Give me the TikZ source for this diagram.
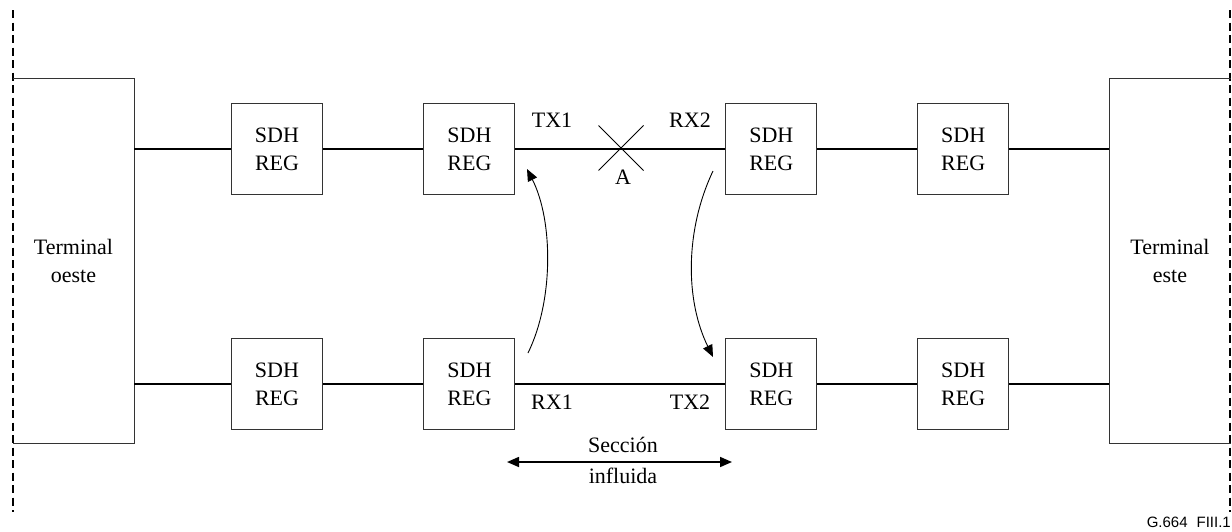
\documentclass[tikz,border=0pt]{standalone}
\usepackage{fontspec}
\setmainfont{Liberation Serif}
\newfontfamily\figsans{Liberation Sans}
\usetikzlibrary{arrows.meta, positioning, shapes.misc}

\begin{document}
\begin{tikzpicture}[
  x=1pt, y=-1pt,
  reg/.style={rectangle, draw=black!80, line width=0.9pt, minimum width=91pt, minimum height=91pt, inner sep=0pt, align=center, font=\fontsize{22}{28}\selectfont},
  term/.style={rectangle, minimum width=121pt, minimum height=364pt, inner sep=0pt, align=center, font=\fontsize{22}{28}\selectfont},
  tag/.style={inner sep=0pt, anchor=base, font=\fontsize{22}{28}\selectfont},
  link/.style={line width=1.6pt},
  side/.style={draw=black!80, line width=0.9pt},
  bound/.style={line width=1.8pt, dash pattern=on 8pt off 4.5pt},
  >={Triangle[length=12pt, width=10pt]}
]
\useasboundingbox (0,0) rectangle (1232,531);

% dashed boundaries
\coordinate (wt) at (13,10);
\coordinate (wb) at (13,512);
\coordinate (et) at (1230,10);
\coordinate (eb) at (1230,512);
\draw[bound] (wt) -- (wb);
\draw[bound] (et) -- (eb);

% terminals
\node[term] (W) at (73.5,261) {Terminal\\oeste};
\node[term] (E) at (1170,261) {Terminal\\este};
\draw[side] (W.north west) -| (W.south east) -- (W.south west);
\draw[side] (E.north east) -| (E.south west) -- (E.south east);

% regenerators
\node[reg] (b1) at (277,149) {SDH\\REG};
\node[reg, right=100.5pt of b1] (b2) {SDH\\REG};
\node[reg, right=210pt of b2] (b3) {SDH\\REG};
\node[reg, right=100pt of b3] (b4) {SDH\\REG};
\node[reg, below=143pt of b1] (c1) {SDH\\REG};
\node[reg, below=143pt of b2] (c2) {SDH\\REG};
\node[reg, below=143pt of b3] (c3) {SDH\\REG};
\node[reg, below=143pt of b4] (c4) {SDH\\REG};

\draw[link] (W.east |- b1) -- (b1) -- (b2) -- (b3) -- (b4) -- (E.west |- b4);
\draw[link] (W.east |- c1) -- (c1) -- (c2) -- (c3) -- (c4) -- (E.west |- c4);

% break point
\node[cross out, draw, line width=1pt, minimum size=44pt, inner sep=0pt] (cut) at (621,148) {};
\node[tag] (lA) at (623,184) {A};

\node[tag] (tx1) at (552,127) {TX1};
\node[tag] (rx2) at (690,127) {RX2};
\node[tag] (rx1) at (552,409) {RX1};
\node[tag] (tx2) at (690,409) {TX2};

% loop-back arrows
\coordinate (up0) at (528,353);
\coordinate (up1) at (527,169);
\coordinate (dn0) at (713,171);
\coordinate (dn1) at (713,357);
\draw[->, line width=0.9pt] (up0) .. controls (554,300) and (553,220) .. (up1);
\draw[->, line width=0.9pt] (dn0) .. controls (685,230) and (685,300) .. (dn1);

% affected section
\coordinate (sL) at (507,462);
\coordinate (sR) at (732,462);
\draw[<->, link] (sL) -- (sR);
\node[tag] (sec) at (623,452) {Sección};
\node[tag] (inf) at (623,483) {influida};

\node[inner sep=0pt, anchor=base east, font=\figsans\fontsize{15}{17}\selectfont] (fig) at (1231,527) {G.664\hspace{9pt}FIII.1};
\end{tikzpicture}
\end{document}
